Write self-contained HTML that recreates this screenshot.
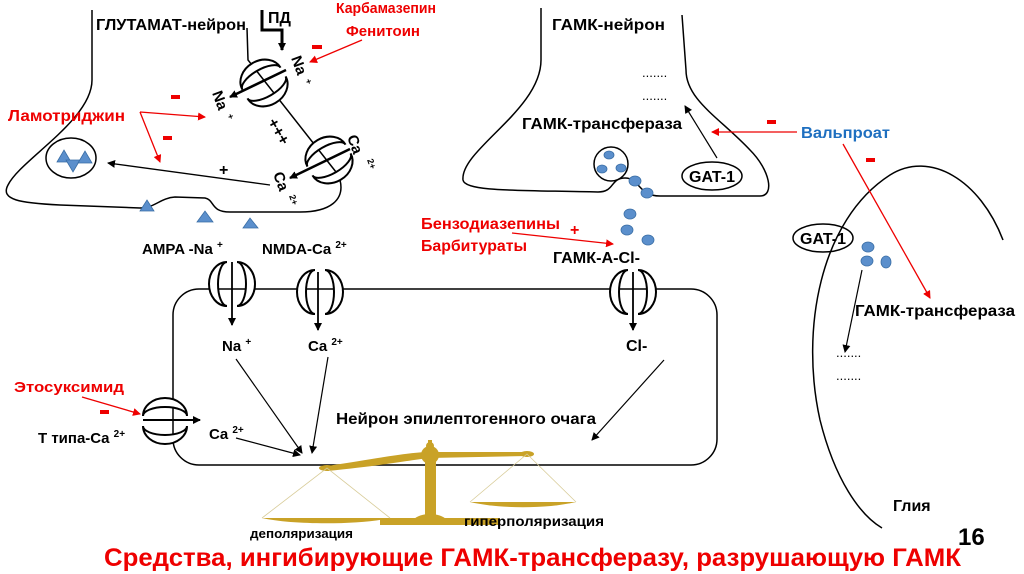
<!DOCTYPE html>
<html><head><meta charset="utf-8"><style>
html,body{margin:0;padding:0;background:#fff;}
svg{display:block;font-family:"Liberation Sans",sans-serif;font-weight:bold;}
</style></head><body>
<svg width="1024" height="574" viewBox="0 0 1024 574" xmlns="http://www.w3.org/2000/svg">
<defs>
<marker id="ab" markerWidth="8" markerHeight="8" refX="7" refY="4" orient="auto" markerUnits="userSpaceOnUse"><path d="M0,0 L8,4 L0,8 Z" fill="#000"/></marker>
<marker id="ar" markerWidth="8" markerHeight="8" refX="7" refY="4" orient="auto" markerUnits="userSpaceOnUse"><path d="M0,0 L8,4 L0,8 Z" fill="#e00"/></marker>
<g id="ch" fill="#fff" stroke="#000" stroke-width="2">
<path d="M-5,-22 A18 22 0 0 0 -5,22 A9 22 0 0 1 -5,-22 Z"/>
<path d="M5,-22 A18 22 0 0 1 5,22 A9 22 0 0 0 5,-22 Z"/>
</g>
</defs>
<g fill="none" stroke="#000" stroke-width="1.5">
<path d="M92,10 L92,80 C92,120 20,160 8,185 C0,200 20,203 60,205 L140,208 C155,208 160,198 175,197 L205,198 C215,200 210,212 230,212 L300,212 C330,212 345,200 340,180"/>
<path d="M247,28 L248,60 L336,172"/>
<path d="M541,8 L541,60 C541,110 460,150 463,180 C465,192 520,190 598,192 C615,192 610,178 625,178 C640,178 638,196 660,196 L760,196 C775,196 770,170 750,150 C720,118 686,100 686,70 L682,15"/>
<path d="M1003,240 C980,180 930,150 890,175 C820,220 800,330 820,420 C835,480 860,515 882,528"/>
</g>
<rect x="173" y="289" width="544" height="176" rx="26" fill="none" stroke="#000" stroke-width="1.5"/>

<text x="96" y="30" font-size="16" textLength="150" lengthAdjust="spacingAndGlyphs">ГЛУТАМАТ-нейрон</text>
<use href="#ch" transform="translate(264,83) rotate(60)"/>
<use href="#ch" transform="translate(329,160) rotate(60)"/>
<line x1="286" y1="70" x2="230" y2="97" stroke="#000" stroke-width="2.5" marker-end="url(#ab)"/>
<line x1="350" y1="149" x2="290" y2="178" stroke="#000" stroke-width="2.5" marker-end="url(#ab)"/>
<path d="M262,10 L262,30 L282,30 L282,50" fill="none" stroke="#000" stroke-width="3" marker-end="url(#ab)"/>
<text x="268" y="23" font-size="16">ПД</text>
<text x="336" y="13" font-size="15" fill="#e00" textLength="100" lengthAdjust="spacingAndGlyphs">Карбамазепин</text>
<text x="346" y="36" font-size="15" fill="#e00" textLength="74" lengthAdjust="spacingAndGlyphs">Фенитоин</text>
<rect x="312" y="45" width="10" height="4" fill="#e00"/>
<line x1="362" y1="40" x2="310" y2="62" stroke="#e00" stroke-width="1.3" marker-end="url(#ar)"/>
<text transform="translate(291,58) rotate(70)" font-size="15">Na</text>
<text transform="translate(305,80) rotate(70)" font-size="9">+</text>
<text transform="translate(212,93) rotate(70)" font-size="15">Na</text>
<text transform="translate(227,115) rotate(70)" font-size="9">+</text>
<text transform="translate(267,122) rotate(60)" font-size="16">+++</text>
<text transform="translate(347,137) rotate(70)" font-size="15">Ca</text>
<text transform="translate(367,160) rotate(70)" font-size="9">2+</text>
<text transform="translate(273,174) rotate(70)" font-size="15">Ca</text>
<text transform="translate(289,196) rotate(70)" font-size="9">2+</text>
<text x="8" y="121" font-size="16" fill="#e00" textLength="117" lengthAdjust="spacingAndGlyphs">Ламотриджин</text>
<rect x="171" y="95" width="9" height="4" fill="#e00"/>
<rect x="163" y="136" width="9" height="4" fill="#e00"/>
<line x1="140" y1="112" x2="205" y2="117" stroke="#e00" stroke-width="1.3" marker-end="url(#ar)"/>
<line x1="140" y1="112" x2="160" y2="162" stroke="#e00" stroke-width="1.3" marker-end="url(#ar)"/>
<ellipse cx="71" cy="158" rx="25" ry="20" fill="#fff" stroke="#000" stroke-width="1.5"/>
<g fill="#5b8fcc" stroke="#3a6ea5" stroke-width="0.8">
<path d="M57,162 L64,150 L71,162 Z"/><path d="M66,160 L73,172 L80,160 Z"/><path d="M78,163 L85,151 L92,163 Z"/>
<path d="M140,211 L147,200 L154,211 Z"/><path d="M197,222 L205,211 L213,222 Z"/><path d="M243,228 L250,218 L258,228 Z"/>
</g>
<line x1="270" y1="185" x2="108" y2="163" stroke="#000" stroke-width="1.3" marker-end="url(#ab)"/>
<text x="219" y="175" font-size="16">+</text>
<text x="142" y="254" font-size="15">AMPA -Na <tspan font-size="10" dy="-6">+</tspan></text>
<text x="262" y="254" font-size="15">NMDA-Ca <tspan font-size="10" dy="-6">2+</tspan></text>

<use href="#ch" transform="translate(232,284)"/>
<use href="#ch" transform="translate(320,292)"/>
<use href="#ch" transform="translate(633,292)"/>
<line x1="232" y1="262" x2="232" y2="325" stroke="#000" stroke-width="1.8" marker-end="url(#ab)"/>
<line x1="318" y1="272" x2="318" y2="330" stroke="#000" stroke-width="1.8" marker-end="url(#ab)"/>
<line x1="633" y1="272" x2="633" y2="330" stroke="#000" stroke-width="1.8" marker-end="url(#ab)"/>
<text x="222" y="351" font-size="15">Na <tspan font-size="10" dy="-6">+</tspan></text>
<text x="308" y="351" font-size="15">Ca <tspan font-size="10" dy="-6">2+</tspan></text>
<text x="626" y="351" font-size="16">Cl-</text>
<line x1="236" y1="359" x2="302" y2="453" stroke="#000" stroke-width="1.2" marker-end="url(#ab)"/>
<line x1="328" y1="357" x2="312" y2="453" stroke="#000" stroke-width="1.2" marker-end="url(#ab)"/>
<line x1="664" y1="360" x2="592" y2="440" stroke="#000" stroke-width="1.2" marker-end="url(#ab)"/>
<line x1="236" y1="438" x2="300" y2="455" stroke="#000" stroke-width="1.2" marker-end="url(#ab)"/>
<text x="336" y="424" font-size="16" textLength="260" lengthAdjust="spacingAndGlyphs">Нейрон эпилептогенного очага</text>
<use href="#ch" transform="translate(165,421) rotate(90)"/>
<line x1="143" y1="420" x2="200" y2="420" stroke="#000" stroke-width="2" marker-end="url(#ab)"/>
<text x="209" y="439" font-size="15">Ca <tspan font-size="10" dy="-6">2+</tspan></text>
<text x="38" y="443" font-size="15">Т типа-Ca <tspan font-size="10" dy="-6">2+</tspan></text>
<text x="14" y="392" font-size="15" fill="#e00" textLength="110" lengthAdjust="spacingAndGlyphs">Этосуксимид</text>
<rect x="100" y="410" width="9" height="4" fill="#e00"/>
<line x1="82" y1="397" x2="140" y2="414" stroke="#e00" stroke-width="1.3" marker-end="url(#ar)"/>

<g fill="#c9a227" stroke="none">
<path d="M327,466 C380,458 410,452 430,452 L527,452 L527,456 L430,458 C410,460 380,466 327,471 Z"/>
<ellipse cx="327" cy="468" rx="8" ry="3"/><ellipse cx="527" cy="454" rx="7" ry="3"/>
<circle cx="430" cy="455" r="9"/><circle cx="430" cy="446" r="4"/><rect x="428" y="440" width="4" height="6"/>
<rect x="425" y="458" width="11" height="60"/>
<path d="M413,520 C420,512 440,512 447,520 Z"/>
<rect x="380" y="518" width="120" height="7"/>
<path d="M262,518 L390,518 C360,525 292,525 262,518 Z"/>
<path d="M470,502 L576,502 C546,509 500,509 470,502 Z"/>
</g>
<g stroke="#d8cc99" stroke-width="0.8" fill="none">
<path d="M262,518 L327,468 L390,518"/><path d="M470,502 L527,454 L576,502"/>
</g>
<text x="250" y="538" font-size="13" textLength="103" lengthAdjust="spacingAndGlyphs">деполяризация</text>
<text x="464" y="526" font-size="14" textLength="140" lengthAdjust="spacingAndGlyphs">гиперполяризация</text>

<text x="552" y="30" font-size="16" textLength="113" lengthAdjust="spacingAndGlyphs">ГАМК-нейрон</text>
<text x="642" y="77" font-size="13" font-weight="normal">.......</text>
<text x="642" y="100" font-size="13" font-weight="normal">.......</text>
<text x="522" y="129" font-size="16" textLength="160" lengthAdjust="spacingAndGlyphs">ГАМК-трансфераза</text>
<line x1="717" y1="158" x2="685" y2="106" stroke="#000" stroke-width="1.2" marker-end="url(#ab)"/>
<ellipse cx="712" cy="176" rx="30" ry="14" fill="#fff" stroke="#000" stroke-width="1.5"/>
<text x="712" y="182" font-size="16" text-anchor="middle">GAT-1</text>
<text x="801" y="138" font-size="16" fill="#1e6fc0" textLength="89" lengthAdjust="spacingAndGlyphs">Вальпроат</text>
<rect x="767" y="120" width="9" height="4" fill="#e00"/>
<line x1="797" y1="132" x2="712" y2="132" stroke="#e00" stroke-width="1.3" marker-end="url(#ar)"/>
<rect x="866" y="158" width="9" height="4" fill="#e00"/>
<line x1="843" y1="144" x2="930" y2="298" stroke="#e00" stroke-width="1.3" marker-end="url(#ar)"/>
<circle cx="611" cy="164" r="17" fill="#fff" stroke="#000" stroke-width="1.5"/>
<g fill="#5b8fcc" stroke="#3a6ea5" stroke-width="0.8">
<ellipse cx="609" cy="155" rx="5" ry="4"/><ellipse cx="602" cy="169" rx="5" ry="4"/><ellipse cx="621" cy="168" rx="5" ry="4"/>
<ellipse cx="635" cy="181" rx="6" ry="5"/><ellipse cx="647" cy="193" rx="6" ry="5"/>
<ellipse cx="630" cy="214" rx="6" ry="5"/><ellipse cx="627" cy="230" rx="6" ry="5"/><ellipse cx="648" cy="240" rx="6" ry="5"/>
<ellipse cx="868" cy="247" rx="6" ry="5"/><ellipse cx="867" cy="261" rx="6" ry="5"/><ellipse cx="886" cy="262" rx="5" ry="6"/>
</g>
<text x="421" y="229" font-size="16" fill="#e00" textLength="139" lengthAdjust="spacingAndGlyphs">Бензодиазепины</text>
<text x="421" y="251" font-size="16" fill="#e00" textLength="106" lengthAdjust="spacingAndGlyphs">Барбитураты</text>
<text x="570" y="235" font-size="16" fill="#e00">+</text>
<line x1="512" y1="233" x2="613" y2="244" stroke="#e00" stroke-width="1.3" marker-end="url(#ar)"/>
<text x="553" y="263" font-size="16" textLength="87" lengthAdjust="spacingAndGlyphs">ГАМК-А-Cl-</text>

<ellipse cx="823" cy="238" rx="30" ry="14" fill="none" stroke="#000" stroke-width="1.5"/>
<text x="823" y="244" font-size="16" text-anchor="middle">GAT-1</text>
<line x1="862" y1="270" x2="845" y2="352" stroke="#000" stroke-width="1.2" marker-end="url(#ab)"/>
<text x="855" y="316" font-size="16" textLength="160" lengthAdjust="spacingAndGlyphs">ГАМК-трансфераза</text>
<text x="836" y="357" font-size="13" font-weight="normal">.......</text>
<text x="836" y="380" font-size="13" font-weight="normal">.......</text>
<text x="893" y="511" font-size="16">Глия</text>
<text x="958" y="545" font-size="24">16</text>
<text x="104" y="566" font-size="25" fill="#e00" textLength="857" lengthAdjust="spacingAndGlyphs">Средства, ингибирующие ГАМК-трансферазу, разрушающую ГАМК</text>
</svg>
</body></html>
